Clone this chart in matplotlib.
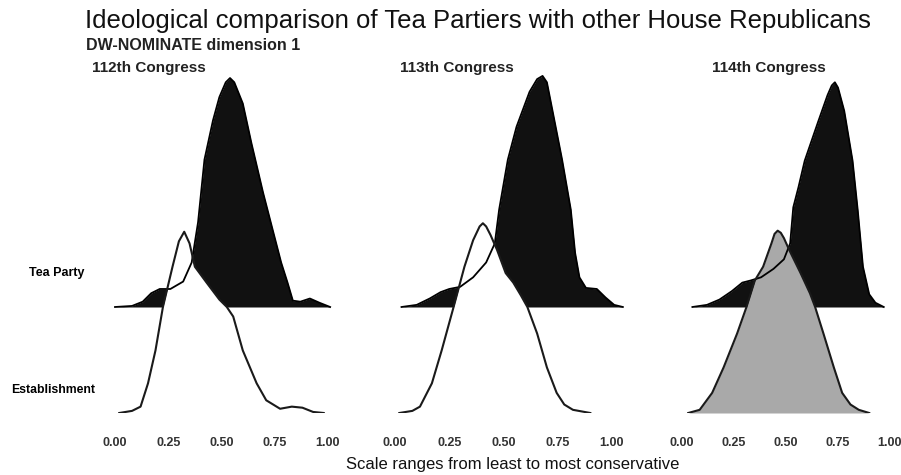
import matplotlib.pyplot as plt

plt.rcParams['font.family'] = ['Liberation Sans', 'DejaVu Sans']

congresses = ["112th Congress", "113th Congress", "114th Congress"]
groups = ["Establishment", "Tea Party"]
tick_vals = [0.0, 0.25, 0.5, 0.75, 1.0]
tick_labels = ["0.00", "0.25", "0.50", "0.75", "1.00"]

# ridge heights (1.0 = gap between the two ridges)
tea_112_x = [0.00, 0.08, 0.13, 0.17, 0.21, 0.26, 0.32, 0.36, 0.39, 0.42, 0.46, 0.49, 0.52, 0.54,
             0.56, 0.60, 0.64, 0.695, 0.74, 0.78, 0.81, 0.835, 0.87, 0.915, 0.96, 1.01]
tea_112_h = [0.00, 0.01, 0.05, 0.13, 0.17, 0.17, 0.24, 0.42, 0.80, 1.39, 1.76, 1.98, 2.12, 2.16,
             2.12, 1.92, 1.55, 1.08, 0.73, 0.42, 0.23, 0.06, 0.05, 0.08, 0.04, 0.00]
est_112_x = [0.02, 0.08, 0.12, 0.155, 0.19, 0.225, 0.27, 0.30, 0.325, 0.35, 0.375, 0.43, 0.49,
             0.525, 0.555, 0.60, 0.665, 0.71, 0.775, 0.83, 0.88, 0.93, 0.98]
est_112_h = [0.00, 0.02, 0.06, 0.28, 0.59, 1.00, 1.38, 1.62, 1.71, 1.60, 1.38, 1.23, 1.07,
             1.00, 0.91, 0.59, 0.28, 0.12, 0.04, 0.06, 0.05, 0.01, 0.00]

tea_113_x = [0.03, 0.10, 0.16, 0.21, 0.25, 0.30, 0.36, 0.42, 0.46, 0.48, 0.52, 0.56, 0.62,
             0.655, 0.68, 0.70, 0.725, 0.77, 0.81, 0.83, 0.85, 0.88, 0.93, 0.97, 1.01, 1.05]
tea_113_h = [0.00, 0.02, 0.08, 0.14, 0.17, 0.19, 0.28, 0.42, 0.60, 0.92, 1.39, 1.70, 2.03,
             2.15, 2.18, 2.12, 1.86, 1.39, 0.92, 0.51, 0.28, 0.18, 0.17, 0.09, 0.02, 0.00]
est_113_x = [0.02, 0.08, 0.115, 0.17, 0.215, 0.27, 0.32, 0.36, 0.39, 0.405, 0.42, 0.44, 0.47,
             0.51, 0.545, 0.58, 0.61, 0.655, 0.70, 0.745, 0.78, 0.82, 0.90]
est_113_h = [0.00, 0.02, 0.06, 0.28, 0.59, 1.00, 1.38, 1.63, 1.76, 1.79, 1.76, 1.68, 1.54,
             1.32, 1.23, 1.11, 1.00, 0.75, 0.43, 0.19, 0.08, 0.03, 0.00]

tea_114_x = [0.05, 0.12, 0.18, 0.24, 0.29, 0.33, 0.38, 0.44, 0.49, 0.52, 0.535, 0.56, 0.59,
             0.655, 0.70, 0.72, 0.735, 0.75, 0.78, 0.82, 0.845, 0.87, 0.90, 0.93, 0.97]
tea_114_h = [0.00, 0.02, 0.07, 0.15, 0.23, 0.25, 0.28, 0.36, 0.45, 0.60, 0.94, 1.13, 1.38,
             1.75, 2.00, 2.09, 2.12, 2.07, 1.85, 1.38, 0.91, 0.38, 0.12, 0.04, 0.00]
est_114_x = [0.03, 0.085, 0.145, 0.20, 0.265, 0.31, 0.35, 0.39, 0.43, 0.445, 0.46, 0.475, 0.49,
             0.515, 0.57, 0.615, 0.64, 0.68, 0.73, 0.77, 0.81, 0.85, 0.90]
est_114_h = [0.00, 0.03, 0.19, 0.43, 0.75, 1.00, 1.25, 1.38, 1.60, 1.69, 1.72, 1.70, 1.65,
             1.54, 1.32, 1.13, 1.00, 0.75, 0.43, 0.19, 0.08, 0.03, 0.00]

tea = [(tea_112_x, tea_112_h), (tea_113_x, tea_113_h), (tea_114_x, tea_114_h)]
est = [(est_112_x, est_112_h), (est_113_x, est_113_h), (est_114_x, est_114_h)]
est_fill = ["white", "white", "#a9a9a9"]

W, H = 901, 475
fig = plt.figure(figsize=(W / 100, H / 100), dpi=100)

# where 0 and 1 fall in each panel, and where the panel title starts (pixels)
spans = [(115, 328), (395, 612), (682, 890)]
title_px = [92, 400, 712]
base_px = 413
row_px = 106
ytop = 3.3

for i, (x0, x1) in enumerate(spans):
    w = x1 - x0
    left = x0 - 0.05 * w
    ax = fig.add_axes([left / W, (H - base_px) / H, 1.11 * w / W, ytop * row_px / H])
    ax.set_xlim(-0.05, 1.06)
    ax.set_ylim(0, ytop)

    tx, th = tea[i]
    ty = [1 + v for v in th]
    ax.fill_between(tx, 1, ty, color="#111111", lw=0)
    ax.plot(tx, ty, color="black", lw=1.3, solid_joinstyle="round")

    ex, eh = est[i]
    ax.fill_between(ex, 0, eh, color=est_fill[i], lw=0)
    ax.plot(ex, eh, color="#1a1a1a", lw=1.5, solid_joinstyle="round")

    for s in ax.spines.values():
        s.set_visible(False)
    ax.set_yticks([])
    ax.set_xticks(tick_vals)
    ax.set_xticklabels(tick_labels, fontsize=9, fontweight="bold", color="#333333")
    ax.tick_params(axis="x", length=0, pad=17)

    fig.text(title_px[i] / W, 1 - 68 / H, congresses[i], fontsize=11, fontweight="bold",
             color="#222222", ha="left", va="center")

fig.text(57 / W, 1 - 273 / H, groups[1], fontsize=9, fontweight="bold", ha="center", va="center")
fig.text(53 / W, 1 - 390 / H, groups[0], fontsize=8.8, fontweight="bold", ha="center", va="center")

fig.text(85 / W, 1 - 21 / H, "Ideological comparison of Tea Partiers with other House Republicans",
         fontsize=18.5, ha="left", va="center", color="#111111")
fig.text(86 / W, 1 - 45 / H, "DW-NOMINATE dimension 1", fontsize=11.5, fontweight="bold",
         ha="left", va="center", color="#222222")
fig.text(513 / W, 1 - 465 / H, "Scale ranges from least to most conservative", fontsize=12,
         ha="center", va="center", color="#111111")

fig.savefig("out.png", dpi=100)
